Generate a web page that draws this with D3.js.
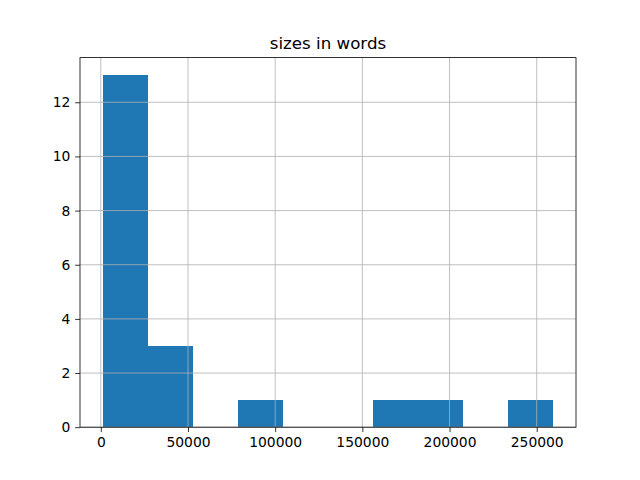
<!DOCTYPE html>
<html><head><meta charset="utf-8">
<script src="https://cdn.jsdelivr.net/npm/d3@7"></script>
<style>body{margin:0;background:#fff}svg{display:block}text{font-family:"DejaVu Sans",sans-serif}</style>
</head><body><svg id="c" width="640" height="480"></svg>
<script>
const title = "sizes in words";
const binMin = 1000;
const binMax = 259600;
const counts = [13, 3, 0, 1, 0, 0, 1, 1, 0, 1];
const xTicks = [0, 50000, 100000, 150000, 200000, 250000];
const yTicks = [0, 2, 4, 6, 8, 10, 12];

const W = 640, H = 480;
const L = 80, R = 576, T = 57.6, B = 427.2;
const svg = d3.select("#c");
const nb = counts.length;
const bw = (binMax - binMin) / nb;
const bins = counts.map((c, i) => ({x0: binMin + i * bw, x1: binMin + (i + 1) * bw, c}));
const pad = (binMax - binMin) * 0.05;
const x = d3.scaleLinear().domain([binMin - pad, binMax + pad]).range([L, R]);
const ymax = d3.max(counts);
const y = d3.scaleLinear().domain([0, ymax * 1.05]).range([B, T]);

svg.append("g").attr("shape-rendering", "crispEdges").selectAll("rect").data(bins.filter(d => d.c > 0)).join("rect")
  .attr("x", d => x(d.x0)).attr("width", d => x(d.x1) - x(d.x0))
  .attr("y", d => y(d.c)).attr("height", d => y(0) - y(d.c))
  .attr("fill", "#1f77b4");

const grid = svg.append("g").attr("stroke", "#b0b0b0").attr("stroke-width", 0.8);
xTicks.forEach(t => grid.append("line").attr("x1", x(t)).attr("x2", x(t)).attr("y1", T).attr("y2", B));
yTicks.forEach(t => grid.append("line").attr("x1", L).attr("x2", R).attr("y1", y(t)).attr("y2", y(t)));

const xAxis = d3.axisBottom(x).tickValues(xTicks).tickFormat(d3.format("d")).tickSizeInner(4.86).tickSizeOuter(0).tickPadding(4.86);
const gx = svg.append("g").attr("transform", `translate(0,${B})`).call(xAxis);
const yAxis = d3.axisLeft(y).tickValues(yTicks).tickFormat(d3.format("d")).tickSizeInner(4.86).tickSizeOuter(0).tickPadding(4.86);
const gy = svg.append("g").attr("transform", `translate(${L},0)`).call(yAxis);
[gx, gy].forEach(g => {
  g.select(".domain").remove();
  g.selectAll(".tick line").attr("stroke", "#000").attr("stroke-width", 0.8);
  g.selectAll(".tick text").attr("font-size", "13.89px").attr("fill", "#000").attr("font-family", "DejaVu Sans");
});

svg.append("rect").attr("x", L).attr("y", T).attr("width", R - L).attr("height", B - T)
  .attr("fill", "none").attr("stroke", "#000").attr("stroke-width", 0.8);

svg.append("text").attr("x", (L + R) / 2).attr("y", T - 8.3).attr("text-anchor", "middle")
  .attr("font-size", "16.67px").attr("fill", "#000").text(title);
</script></body></html>
